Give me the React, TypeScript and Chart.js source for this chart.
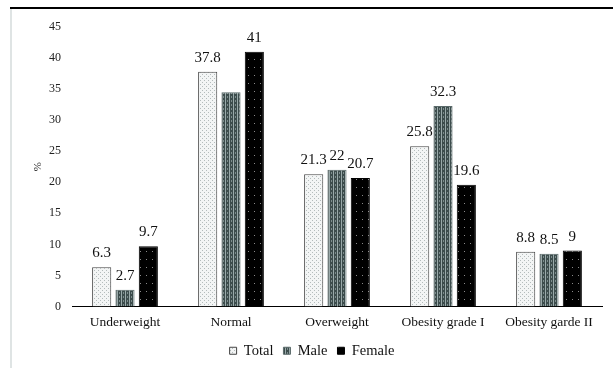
import React, { useEffect, useRef } from "react";
import { Chart, registerables } from "chart.js";

Chart.register(...registerables);

const categories = ["Underweight", "Normal", "Overweight", "Obesity grade I", "Obesity garde II"];
const totalValues = [6.3, 37.8, 21.3, 25.8, 8.8];
const maleValues = [2.7, 34.5, 22, 32.3, 8.5];
const femaleValues = [9.7, 41, 20.7, 19.6, 9];
// value labels printed above each bar (null = no label)
const totalLabels = ["6.3", "37.8", "21.3", "25.8", "8.8"];
const maleLabels = ["2.7", null, "22", "32.3", "8.5"];
const femaleLabels = ["9.7", "41", "20.7", "19.6", "9"];
const yTicks = [0, 5, 10, 15, 20, 25, 30, 35, 40, 45];

const FONT = "'Liberation Serif', 'Times New Roman', serif";

function makePattern(draw: (c: CanvasRenderingContext2D) => void, w: number, h: number) {
  const off = document.createElement("canvas");
  off.width = w;
  off.height = h;
  const c = off.getContext("2d")!;
  draw(c);
  return c.createPattern(off, "repeat")!;
}

export default function App() {
  const ref = useRef<HTMLCanvasElement>(null);

  useEffect(() => {
    const canvas = ref.current!;
    const ctx = canvas.getContext("2d")!;

    const dotted = makePattern((c) => {
      c.fillStyle = "#f3f5f5";
      c.fillRect(0, 0, 4, 4);
      c.fillStyle = "#b4bcbc";
      c.fillRect(0, 0, 1, 1);
      c.fillRect(2, 2, 1, 1);
    }, 4, 4);

    const striped = makePattern((c) => {
      c.fillStyle = "#3c4c4c";
      c.fillRect(0, 0, 4, 4);
      c.fillStyle = "#9aaaaa";
      c.fillRect(1, 0, 1, 4);
      c.fillStyle = "#7c8c8c";
      c.fillRect(3, 0, 1, 2);
    }, 4, 4);

    const darkDots = makePattern((c) => {
      c.fillStyle = "#000000";
      c.fillRect(0, 0, 6, 8);
      c.fillStyle = "#8a8a8a";
      c.fillRect(2, 3, 1, 1);
    }, 6, 8);

    const labelSets = [totalLabels, maleLabels, femaleLabels];

    const framePlugin = {
      id: "frame",
      beforeDraw(chart: Chart) {
        const g = chart.ctx;
        g.save();
        g.fillStyle = "#ffffff";
        g.fillRect(0, 0, chart.width, chart.height);
        g.fillStyle = "#dfe4e4";
        g.fillRect(10, 8, 2, chart.height - 8);
        g.fillStyle = "#000000";
        g.fillRect(10, 7, chart.width - 10, 2);
        g.restore();
      },
    };

    const valueLabels = {
      id: "valueLabels",
      afterDatasetsDraw(chart: Chart) {
        const g = chart.ctx;
        g.save();
        g.font = `15px ${FONT}`;
        g.fillStyle = "#111111";
        g.textAlign = "center";
        g.textBaseline = "alphabetic";
        chart.data.datasets.forEach((_, di) => {
          const meta = chart.getDatasetMeta(di);
          meta.data.forEach((bar: any, i: number) => {
            const txt = labelSets[di][i];
            if (txt == null) return;
            g.fillText(txt, bar.x, bar.y - 10);
          });
        });
        g.restore();
      },
    };

    const chart = new Chart(ctx, {
      type: "bar",
      data: {
        labels: categories,
        datasets: [
          { label: "Total", data: totalValues, backgroundColor: dotted as any, borderColor: "#444444", borderWidth: 1 },
          { label: "Male", data: maleValues, backgroundColor: striped as any, borderColor: "#5a6a6a", borderWidth: 1 },
          { label: "Female", data: femaleValues, backgroundColor: darkDots as any, borderColor: "#000000", borderWidth: 1 },
        ],
      },
      options: {
        animation: false,
        responsive: false,
        devicePixelRatio: 1,
        layout: { padding: { left: 22, right: 11, top: 27, bottom: 0 } },
        datasets: { bar: { categoryPercentage: 0.66, barPercentage: 0.82 } },
        plugins: {
          tooltip: { enabled: false },
          legend: {
            position: "bottom",
            labels: {
              font: { family: FONT, size: 14.5 },
              color: "#111111",
              boxWidth: 7,
              boxHeight: 7,
              padding: 10,
            },
          },
        },
        scales: {
          x: {
            grid: { display: false, drawTicks: false },
            border: { display: true, color: "#000000", width: 1 },
            ticks: { font: { family: FONT, size: 13.5 }, color: "#111111", padding: 8, maxRotation: 0 },
            afterFit(scale: any) {
              scale.height = 27;
            },
          },
          y: {
            min: 0,
            max: 45,
            afterBuildTicks(scale: any) {
              scale.ticks = yTicks.map((v) => ({ value: v }));
            },
            grid: { display: false, drawTicks: false },
            border: { display: false },
            ticks: { font: { family: FONT, size: 12 }, color: "#222222", padding: 11 },
            title: { display: true, text: "%", font: { family: FONT, size: 11 }, color: "#222222", padding: { top: 10, bottom: 0 } },
            afterFit(scale: any) {
              scale.width = 50;
            },
          },
        },
      },
      plugins: [framePlugin, valueLabels],
    });

    return () => chart.destroy();
  }, []);

  return (
    <div style={{ position: "fixed", left: 0, top: 0, width: 613, height: 368, background: "#ffffff" }}>
      <canvas ref={ref} width={613} height={368} style={{ width: 613, height: 368, display: "block" }} />
    </div>
  );
}
